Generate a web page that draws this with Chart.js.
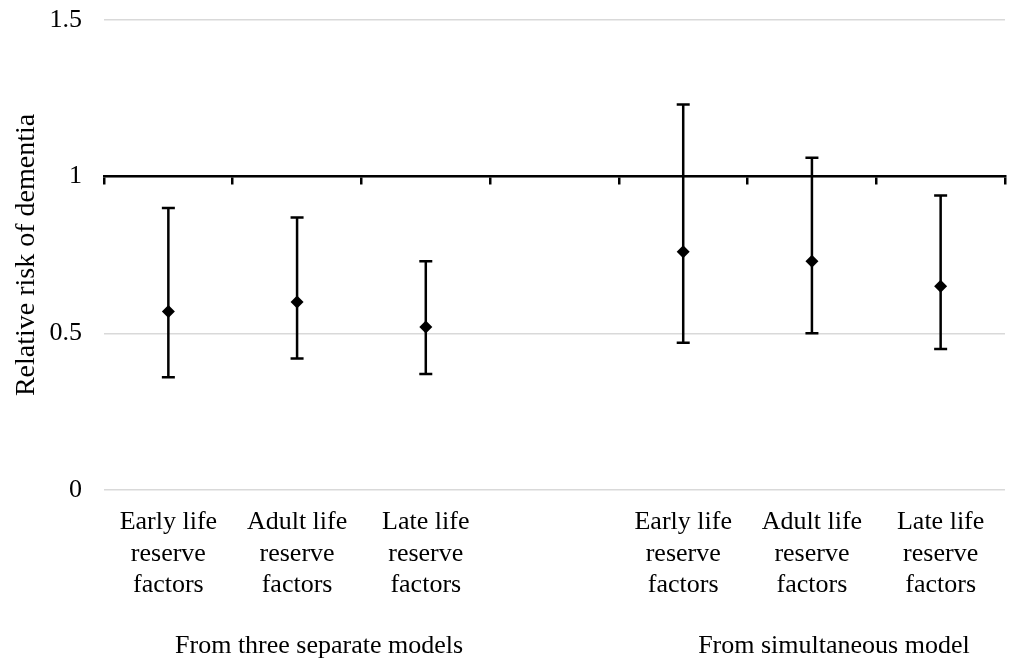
<!DOCTYPE html>
<html>
<head>
<meta charset="utf-8">
<script src="https://cdn.jsdelivr.net/npm/chart.js@4/dist/chart.umd.min.js"></script>
<style>
  html, body { margin: 0; padding: 0; background: #fff; }
  #wrap { width: 1014px; height: 661px; }
</style>
</head>
<body>
<div id="wrap"><canvas id="c" width="1014" height="661"></canvas></div>
<script>
// ---- data ----
const categories = [
  ['Early life', 'reserve', 'factors'],
  ['Adult life', 'reserve', 'factors'],
  ['Late life', 'reserve', 'factors'],
  '',
  ['Early life', 'reserve', 'factors'],
  ['Adult life', 'reserve', 'factors'],
  ['Late life', 'reserve', 'factors']
];
const groupLabels = ['', 'From three separate models', '', '', '', 'From simultaneous model', ''];
const relativeRisk = [0.57, 0.60, 0.52, null, 0.76, 0.73, 0.65];
const lowerCI = [0.36, 0.42, 0.37, null, 0.47, 0.50, 0.45];
const upperCI = [0.90, 0.87, 0.73, null, 1.23, 1.06, 0.94];
const yTicks = [0, 0.5, 1, 1.5];
const referenceValue = 1;
const yTitle = 'Relative risk of dementia';

const FONT = '"Liberation Serif", "Times New Roman", serif';

const errorBars = {
  id: 'errorBars',
  beforeDatasetsDraw(chart) {
    const { ctx, scales: { x, y } } = chart;
    ctx.save();
    ctx.strokeStyle = '#000';
    ctx.lineWidth = 2.5;
    const cap = 6.5;
    for (let i = 0; i < relativeRisk.length; i++) {
      if (lowerCI[i] == null || upperCI[i] == null) continue;
      const px = x.getPixelForValue(i);
      const yl = y.getPixelForValue(lowerCI[i]);
      const yu = y.getPixelForValue(upperCI[i]);
      ctx.beginPath();
      ctx.moveTo(px, yl); ctx.lineTo(px, yu);
      ctx.moveTo(px - cap, yl); ctx.lineTo(px + cap, yl);
      ctx.moveTo(px - cap, yu); ctx.lineTo(px + cap, yu);
      ctx.stroke();
    }
    ctx.restore();
  }
};

new Chart(document.getElementById('c'), {
  type: 'line',
  data: {
    labels: categories,
    datasets: [{
      data: relativeRisk,
      showLine: false,
      pointStyle: 'rectRot',
      pointRadius: 6.5,
      pointHoverRadius: 6.5,
      backgroundColor: '#000',
      borderColor: '#000',
      borderWidth: 0
    }]
  },
  options: {
    responsive: false,
    animation: false,
    events: [],
    layout: { padding: { top: 20, right: 9, left: 0, bottom: 0 } },
    plugins: { legend: { display: false }, tooltip: { enabled: false } },
    scales: {
      y: {
        min: 0, max: 1.5,
        afterBuildTicks(s) { s.ticks = yTicks.map(v => ({ value: v })); },
        afterFit(s) { s.width = 104; s.paddingTop = 0; s.paddingBottom = 0; },
        border: { display: false },
        grid: { color: '#d9d9d9', lineWidth: 1.5, drawTicks: false },
        ticks: { color: '#000', font: { family: FONT, size: 26 }, padding: 22, callback: v => String(v) },
        title: { display: true, text: yTitle, color: '#000', font: { family: FONT, size: 28 }, padding: { top: 10, bottom: 0 } }
      },
      x: {
        type: 'category',
        offset: true,
        weight: 0,
        afterFit(s) { s.height = 110; },
        border: { display: false },
        grid: { display: false, drawTicks: false },
        ticks: { color: '#000', font: { family: FONT, size: 26, lineHeight: 1.2 }, padding: 17, autoSkip: false, maxRotation: 0, minRotation: 0 }
      },
      xg: {
        type: 'category',
        labels: groupLabels,
        position: 'bottom',
        offset: true,
        weight: 1,
        afterFit(s) { s.height = 61; },
        border: { display: false },
        grid: { display: false, drawTicks: false },
        ticks: { color: '#000', font: { family: FONT, size: 26 }, padding: 31, labelOffset: 22, autoSkip: false, maxRotation: 0, minRotation: 0 }
      },
      xref: {
        type: 'category',
        position: { y: referenceValue },
        offset: true,
        border: { display: true, color: '#000', width: 2.5 },
        grid: { display: true, offset: true, drawOnChartArea: false, drawTicks: true, tickLength: 7, color: '#000', lineWidth: 2.5 },
        ticks: { display: false }
      }
    }
  },
  plugins: [errorBars]
});
</script>
</body>
</html>
